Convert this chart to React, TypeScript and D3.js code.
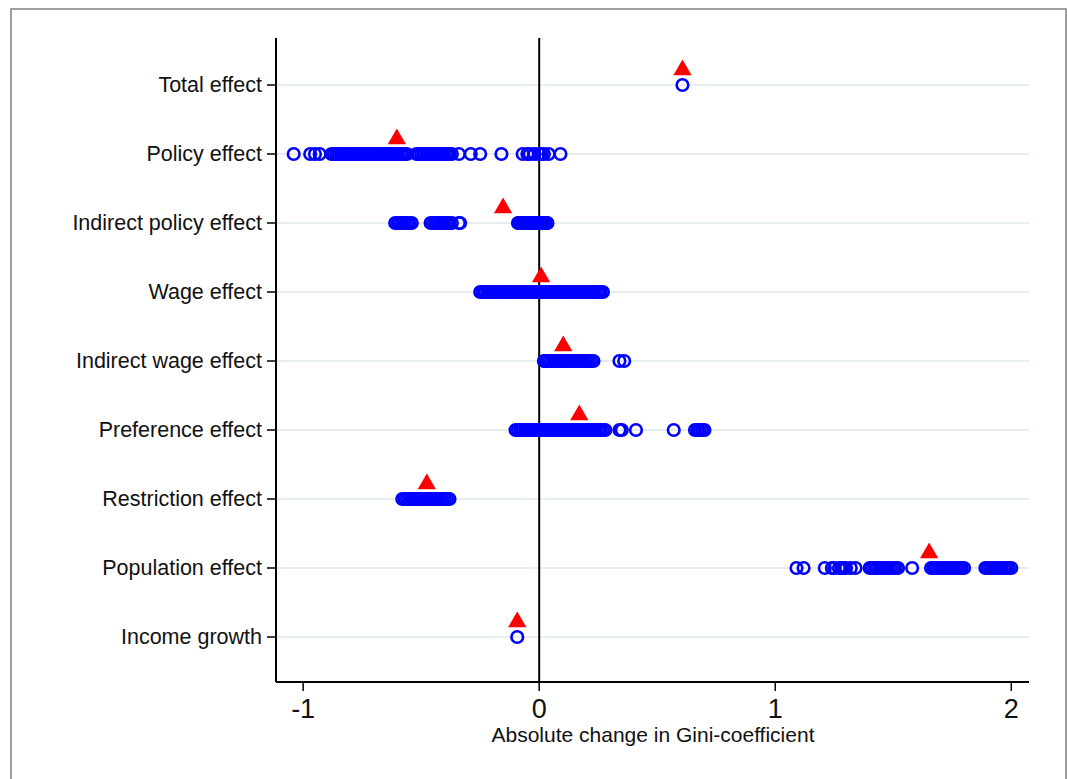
import * as d3 from "d3";

const categories = [
  "Total effect",
  "Policy effect",
  "Indirect policy effect",
  "Wage effect",
  "Indirect wage effect",
  "Preference effect",
  "Restriction effect",
  "Population effect",
  "Income growth",
];

// point estimate (red triangle) per category
const pointEstimates = [0.607, -0.603, -0.153, 0.008, 0.102, 0.17, -0.476, 1.652, -0.093];

// scattered estimates (blue circles) per category
const totalVals = [0.607];
const policyVals = [
  -1.04, -0.97, -0.95, -0.93, -0.88, -0.87, -0.86, -0.85, -0.84, -0.83, -0.82, -0.81, -0.8,
  -0.79, -0.78, -0.77, -0.76, -0.75, -0.74, -0.73, -0.72, -0.71, -0.7, -0.69, -0.68, -0.67,
  -0.66, -0.65, -0.64, -0.63, -0.62, -0.61, -0.6, -0.59, -0.58, -0.57, -0.56, -0.52, -0.51,
  -0.5, -0.49, -0.48, -0.47, -0.46, -0.45, -0.44, -0.43, -0.42, -0.41, -0.4, -0.39, -0.38,
  -0.37, -0.34, -0.29, -0.25, -0.16, -0.07, -0.05, -0.04, -0.02, 0.0, 0.01, 0.02, 0.04, 0.09,
];
const indirectPolicyVals = [
  -0.61, -0.6, -0.59, -0.58, -0.57, -0.56, -0.55, -0.54, -0.46, -0.45, -0.44, -0.43, -0.42,
  -0.41, -0.4, -0.39, -0.38, -0.37, -0.34, -0.335, -0.09, -0.085, -0.08, -0.075, -0.07,
  -0.065, -0.06, -0.055, -0.05, -0.045, -0.04, -0.035, -0.03, -0.025, -0.02, -0.015, -0.01,
  -0.005, 0.0, 0.005, 0.01, 0.015, 0.02, 0.025, 0.03, 0.035,
];
const wageVals = [
  -0.25, -0.24, -0.235, -0.23, -0.22, -0.21, -0.2, -0.19, -0.18, -0.17, -0.16, -0.15, -0.14,
  -0.13, -0.12, -0.11, -0.1, -0.09, -0.08, -0.07, -0.06, -0.05, -0.04, -0.03, -0.02, -0.01,
  0.0, 0.01, 0.02, 0.03, 0.04, 0.05, 0.06, 0.07, 0.08, 0.09, 0.1, 0.11, 0.12, 0.13, 0.14,
  0.15, 0.16, 0.17, 0.18, 0.19, 0.2, 0.21, 0.22, 0.23, 0.24, 0.25, 0.26, 0.27,
];
const indirectWageVals = [
  0.02, 0.025, 0.03, 0.04, 0.05, 0.06, 0.07, 0.08, 0.09, 0.1, 0.11, 0.12, 0.13, 0.14, 0.15,
  0.16, 0.17, 0.18, 0.19, 0.2, 0.21, 0.22, 0.23, 0.34, 0.36,
];
const preferenceVals = [
  -0.1, -0.09, -0.08, -0.07, -0.06, -0.05, -0.04, -0.03, -0.02, -0.01, 0.0, 0.01, 0.02, 0.03,
  0.04, 0.05, 0.06, 0.07, 0.08, 0.09, 0.1, 0.11, 0.12, 0.13, 0.14, 0.15, 0.16, 0.17, 0.18,
  0.19, 0.2, 0.21, 0.22, 0.23, 0.24, 0.25, 0.26, 0.27, 0.28, 0.34, 0.35, 0.41, 0.57, 0.66,
  0.67, 0.68, 0.69, 0.7,
];
const restrictionVals = [
  -0.58, -0.57, -0.56, -0.55, -0.54, -0.53, -0.52, -0.51, -0.5, -0.49, -0.48, -0.47, -0.46,
  -0.45, -0.44, -0.43, -0.42, -0.41, -0.4, -0.39, -0.38,
];
const populationVals = [
  1.09, 1.12, 1.21, 1.24, 1.25, 1.27, 1.28, 1.29, 1.3, 1.32, 1.34, 1.4, 1.41, 1.42, 1.43,
  1.44, 1.45, 1.46, 1.47, 1.48, 1.49, 1.5, 1.51, 1.52, 1.58, 1.66, 1.67, 1.68, 1.69, 1.7,
  1.71, 1.72, 1.73, 1.74, 1.75, 1.76, 1.77, 1.78, 1.79, 1.8, 1.89, 1.9, 1.91, 1.92, 1.93,
  1.94, 1.95, 1.96, 1.97, 1.98, 1.99, 2.0,
];
const incomeVals = [-0.093];

const seriesVals = [
  totalVals,
  policyVals,
  indirectPolicyVals,
  wageVals,
  indirectWageVals,
  preferenceVals,
  restrictionVals,
  populationVals,
  incomeVals,
];

const xTicks = [-1, 0, 1, 2];
const xTitle = "Absolute change in Gini-coefficient";

const W = 1067;
const H = 779;
const font = "'Liberation Sans', Arial, sans-serif";

export default function App() {
  const x = d3.scaleLinear().domain([-1.115, 2.075]).range([276, 1029]);
  const y = d3.scalePoint<string>().domain(categories).range([85, 637]);
  const axisY = 682;
  const topY = 38;
  const tri = d3.symbol().type(d3.symbolTriangle).size(145)() as string;

  return (
    <svg
      width={W}
      height={H}
      style={{ position: "absolute", left: 0, top: 0, background: "#fff" }}
    >
      <rect x={11} y={9} width={1055} height={790} fill="#fff" stroke="#7f7f7f" strokeWidth={1.5} />

      {/* grid lines */}
      {categories.map((c) => (
        <line
          key={"g" + c}
          x1={x.range()[0]}
          x2={x.range()[1]}
          y1={y(c)}
          y2={y(c)}
          stroke="#e6eef1"
          strokeWidth={2}
        />
      ))}

      {/* y axis */}
      <line x1={276} x2={276} y1={topY} y2={axisY} stroke="#000" strokeWidth={2} />
      {categories.map((c) => (
        <g key={"yt" + c}>
          <line x1={267} x2={276} y1={y(c)} y2={y(c)} stroke="#000" strokeWidth={1.5} />
          <text
            x={262}
            y={y(c)}
            textAnchor="end"
            dominantBaseline="central"
            fontFamily={font}
            fontSize={21.5}
            fill="#111"
          >
            {c}
          </text>
        </g>
      ))}

      {/* x axis */}
      <line x1={x.range()[0]} x2={x.range()[1]} y1={axisY} y2={axisY} stroke="#000" strokeWidth={2} />
      {xTicks.map((t) => (
        <g key={"xt" + t}>
          <line x1={x(t)} x2={x(t)} y1={axisY} y2={axisY + 9} stroke="#000" strokeWidth={1.5} />
          <text
            x={x(t)}
            y={718}
            textAnchor="middle"
            fontFamily={font}
            fontSize={27}
            fill="#111"
          >
            {t}
          </text>
        </g>
      ))}
      <text x={653} y={742} textAnchor="middle" fontFamily={font} fontSize={21} fill="#111">
        {xTitle}
      </text>

      {/* zero line */}
      <line x1={x(0)} x2={x(0)} y1={topY} y2={axisY} stroke="#000" strokeWidth={2} />

      {/* circles */}
      {seriesVals.map((vals, i) =>
        vals.map((v, j) => (
          <circle
            key={"c" + i + "-" + j}
            cx={x(v)}
            cy={y(categories[i])}
            r={5.8}
            fill="none"
            stroke="#0000ff"
            strokeWidth={2.6}
          />
        ))
      )}

      {/* point estimates */}
      {pointEstimates.map((v, i) => (
        <path
          key={"t" + i}
          d={tri}
          transform={`translate(${x(v)},${(y(categories[i]) as number) - 15})`}
          fill="#ff0000"
        />
      ))}
    </svg>
  );
}
